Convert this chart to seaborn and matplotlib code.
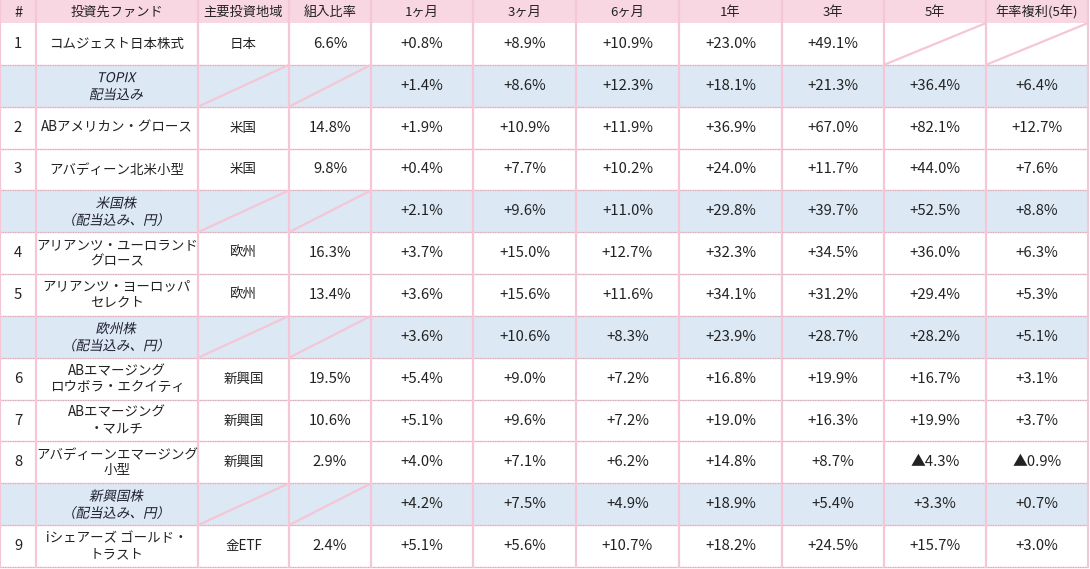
import numpy as np
import matplotlib
matplotlib.use("Agg")
import matplotlib.pyplot as plt
import seaborn as sns
from matplotlib.patches import Rectangle, PathPatch
from matplotlib.textpath import TextPath
from matplotlib.font_manager import FontProperties
from matplotlib.transforms import Affine2D

sns.set_theme(style="white")
plt.rcParams['font.family'] = ['Noto Sans CJK JP', 'DejaVu Sans']

# table data
headers = ["#", "投資先ファンド", "主要投資地域", "組入比率", "1ヶ月", "3ヶ月", "6ヶ月",
           "1年", "3年", "5年", "年率複利(5年)"]
nums = ["1", "", "2", "3", "", "4", "5", "", "6", "7", "8", "", "9"]
funds = ["コムジェスト日本株式", "TOPIX\n配当込み", "ABアメリカン・グロース", "アバディーン北米小型",
         "米国株\n（配当込み、円）", "アリアンツ・ユーロランド\nグロース", "アリアンツ・ヨーロッパ\nセレクト",
         "欧州株\n（配当込み、円）", "ABエマージング\nロウボラ・エクイティ", "ABエマージング\n・マルチ",
         "アバディーンエマージング\n小型", "新興国株\n（配当込み、円）", "iシェアーズ ゴールド・\nトラスト"]
is_bench = [False, True, False, False, True, False, False, True, False, False, False, True, False]
regions = ["日本", None, "米国", "米国", None, "欧州", "欧州", None, "新興国", "新興国", "新興国", None, "金ETF"]
weights = ["6.6%", None, "14.8%", "9.8%", None, "16.3%", "13.4%", None, "19.5%", "10.6%", "2.9%", None, "2.4%"]
ret_1m = ["+0.8%", "+1.4%", "+1.9%", "+0.4%", "+2.1%", "+3.7%", "+3.6%", "+3.6%", "+5.4%", "+5.1%", "+4.0%", "+4.2%", "+5.1%"]
ret_3m = ["+8.9%", "+8.6%", "+10.9%", "+7.7%", "+9.6%", "+15.0%", "+15.6%", "+10.6%", "+9.0%", "+9.6%", "+7.1%", "+7.5%", "+5.6%"]
ret_6m = ["+10.9%", "+12.3%", "+11.9%", "+10.2%", "+11.0%", "+12.7%", "+11.6%", "+8.3%", "+7.2%", "+7.2%", "+6.2%", "+4.9%", "+10.7%"]
ret_1y = ["+23.0%", "+18.1%", "+36.9%", "+24.0%", "+29.8%", "+32.3%", "+34.1%", "+23.9%", "+16.8%", "+19.0%", "+14.8%", "+18.9%", "+18.2%"]
ret_3y = ["+49.1%", "+21.3%", "+67.0%", "+11.7%", "+39.7%", "+34.5%", "+31.2%", "+28.7%", "+19.9%", "+16.3%", "+8.7%", "+5.4%", "+24.5%"]
ret_5y = [None, "+36.4%", "+82.1%", "+44.0%", "+52.5%", "+36.0%", "+29.4%", "+28.2%", "+16.7%", "+19.9%", "▲4.3%", "+3.3%", "+15.7%"]
ret_ann = [None, "+6.4%", "+12.7%", "+7.6%", "+8.8%", "+6.3%", "+5.3%", "+5.1%", "+3.1%", "+3.7%", "▲0.9%", "+0.7%", "+3.0%"]

columns = [nums, funds, regions, weights, ret_1m, ret_3m, ret_6m, ret_1y, ret_3y, ret_5y, ret_ann]

# layout (pixels)
col_edges = [0, 36, 198, 289, 371, 473, 576, 679, 782, 884, 986, 1088]
header_h = 23
n_rows = len(funds)
row_h = (567 - header_h) / n_rows

pink = "#f8d7e2"
pink_line = "#f5c6d5"
blue = "#dce8f4"
txt = "#222222"

cjk = FontProperties(family="Noto Sans CJK JP")


def italic_text(ax, xc, yc, s, size_px, pitch):
    # fake oblique text: noto cjk has no italic face
    lines = s.split("\n")
    top = yc - pitch * (len(lines) - 1) / 2
    for k, line in enumerate(lines):
        tp = TextPath((0, 0), line, size=size_px, prop=cjk)
        ext = tp.get_extents()
        w = ext.x1 - ext.x0
        tr = (Affine2D().translate(-ext.x0 - w / 2, -size_px * 0.36)
              .skew_deg(12, 0).scale(1, -1).translate(xc, top + k * pitch))
        ax.add_patch(PathPatch(tr.transform_path(tp), color="#1e1e30", lw=0))


fig = plt.figure(figsize=(10.9, 5.69), dpi=100)
ax = fig.add_axes([0, 0, 1, 1])
ax.set_xlim(0, 1090)
ax.set_ylim(569, 0)
ax.axis("off")

# header
ax.add_patch(Rectangle((0, 0), col_edges[-1], header_h, color=pink, lw=0))
for j, h in enumerate(headers):
    xc = (col_edges[j] + col_edges[j + 1]) / 2
    ax.text(xc, header_h / 2 + 1, h, ha="center", va="center",
            fontsize=10.5 if j == 0 else 9.5, color=txt)

# body
for i in range(n_rows):
    y0 = header_h + i * row_h
    yc = y0 + row_h / 2
    if is_bench[i]:
        ax.add_patch(Rectangle((0, y0), col_edges[-1], row_h, color=blue, lw=0))
    for j, col in enumerate(columns):
        x0, x1 = col_edges[j], col_edges[j + 1]
        xc = (x0 + x1) / 2
        val = col[i]
        if val is None:
            ax.plot([x0, x1], [y0 + row_h, y0], color=pink_line, lw=1.6, solid_capstyle="butt")
            continue
        if val == "":
            continue
        if j == 1 and is_bench[i]:
            italic_text(ax, xc, yc, val, 13.5, 17)
        elif j in (1, 2):
            ax.text(xc, yc, val, ha="center", va="center", fontsize=9.7, color=txt,
                    linespacing=1.15)
        else:
            ax.text(xc, yc, val, ha="center", va="center", fontsize=10.7, color=txt)
    # row separator
    ax.plot([0, col_edges[-1]], [y0 + row_h, y0 + row_h], color=pink_line, lw=1.0)
    ax.plot([0, col_edges[-1]], [y0 + row_h, y0 + row_h], color="#aaaaaa", lw=0.6, ls=(0, (1, 2)))

# vertical grid
for x in col_edges:
    ax.plot([x, x], [0, header_h + n_rows * row_h], color=pink_line, lw=1.6)

fig.savefig("out.png", dpi=100)
